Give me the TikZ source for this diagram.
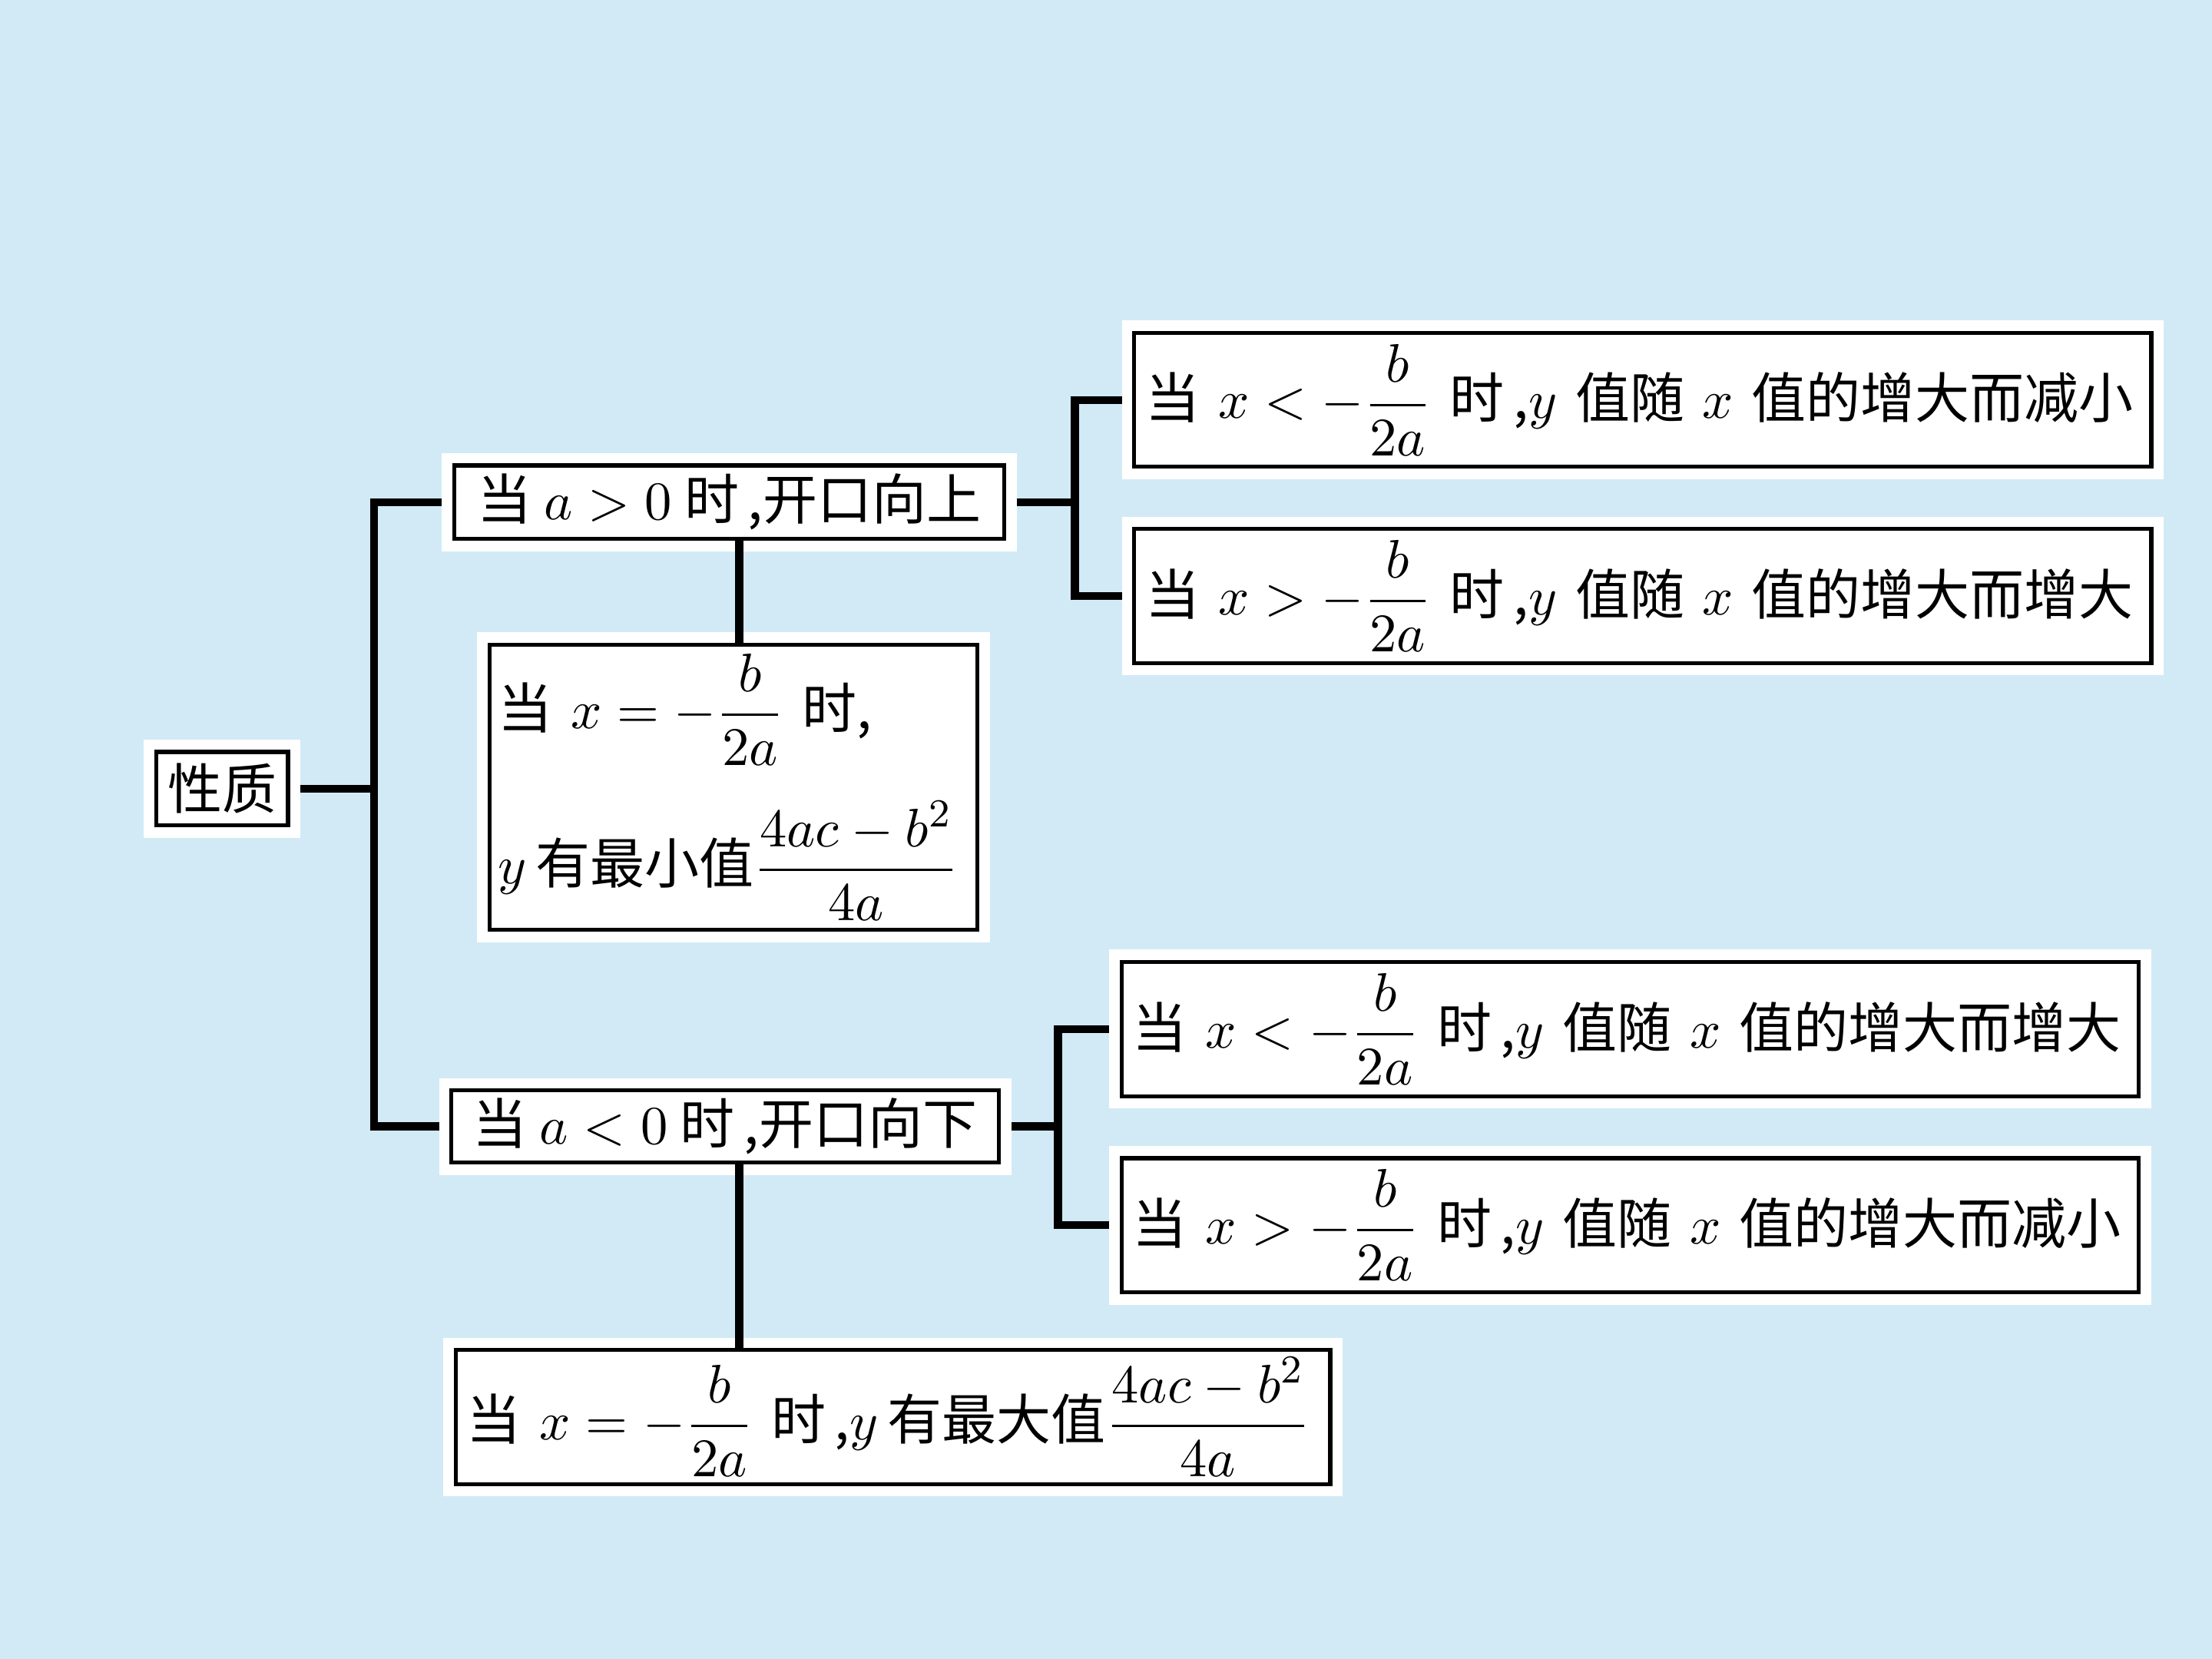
\documentclass[tikz,border=0pt]{standalone}
\usepackage{fontspec}
\usepackage{amsmath}
\usepackage{xcolor}
\usepackage{tikz}
\usetikzlibrary{positioning,backgrounds,calc}
\newfontfamily\cjk{Noto Sans CJK SC}
\definecolor{paperblue}{RGB}{210,234,246}
\tikzset{
  proproot/.style = {rectangle, draw=black, line width=0.8pt, fill=white,
                     preaction={draw=white, line width=5pt},
                     font=\cjk\fontsize{11}{13}\selectfont,
                     inner xsep=0.08cm, inner ysep=0.05cm, align=left},
  propcase/.style = {proproot},
  propflow/.style = {draw=black, line width=1.6pt},
}

\begin{document}
\begin{tikzpicture}
  \useasboundingbox (0,0) rectangle (15.68,11.76);

  \node[proproot, minimum width=0.91cm, minimum height=0.52cm] (xz) at (1.575,6.17) {性质};
  \node[propcase, minimum width=3.90cm, minimum height=0.52cm] (up) at (5.17,8.20) {当 $a>0$ 时\,,开口向上};
  \node[propcase, minimum width=3.46cm, minimum height=2.02cm, text width=3.34cm, inner xsep=0.06cm] (minv) at (5.20,6.18)
       {\mbox{当 $x=-\dfrac{b}{2a}$ 时,}\\[0.22cm]
        \mbox{$y$\,有最小值$\dfrac{4ac-b^2}{4a}$}};
  \node[propcase, minimum width=7.21cm, minimum height=0.95cm, text width=7.05cm] (uldec) at (11.645,8.925)
       {当 $x<-\dfrac{b}{2a}$ 时\,,$y$ 值随 $x$ 值的增大而减小};
  \node[propcase, minimum width=7.21cm, minimum height=0.95cm, text width=7.05cm] (urinc) at (11.645,7.535)
       {当 $x>-\dfrac{b}{2a}$ 时\,,$y$ 值随 $x$ 值的增大而增大};
  \node[propcase, minimum width=3.88cm, minimum height=0.51cm] (down) at (5.14,3.775) {当 $a<0$ 时\,,开口向下};
  \node[propcase, minimum width=7.21cm, minimum height=0.95cm, text width=7.05cm] (dlinc) at (11.555,4.465)
       {当 $x<-\dfrac{b}{2a}$ 时\,,$y$ 值随 $x$ 值的增大而增大};
  \node[propcase, minimum width=7.21cm, minimum height=0.95cm, text width=7.05cm] (drdec) at (11.555,3.075)
       {当 $x>-\dfrac{b}{2a}$ 时\,,$y$ 值随 $x$ 值的增大而减小};
  \node[propcase, minimum width=6.18cm, minimum height=0.95cm, text width=6.04cm] (maxv) at (6.33,1.715)
       {\mbox{当 $x=-\dfrac{b}{2a}$ 时\,,$y$\,有最大值$\dfrac{4ac-b^2}{4a}$}};

  \coordinate (spine)  at (2.65,6.17);
  \coordinate (upfork) at (7.62,8.20);
  \coordinate (dnfork) at (7.50,3.775);

  % paper and horizontal links sit behind the white pads
  \begin{scope}[on background layer]
    \fill[paperblue] (0,0) rectangle (15.68,11.76);
    \draw[propflow] (xz.east) -- (spine);
    \draw[propflow] (up.west) -| (spine) |- (down.west);
    \draw[propflow] (up.east) -- (upfork);
    \draw[propflow] (uldec.west) -| (upfork) |- (urinc.west);
    \draw[propflow] (down.east) -- (dnfork);
    \draw[propflow] (dlinc.west) -| (dnfork) |- (drdec.west);
  \end{scope}
  \draw[propflow] ([xshift=0.04cm]minv.north) -- ([xshift=0.04cm]minv.north |- up.south);
  \draw[propflow] ([xshift=0.1cm]down.south) -- ([xshift=0.1cm]down.south |- maxv.north);
\end{tikzpicture}
\end{document}
